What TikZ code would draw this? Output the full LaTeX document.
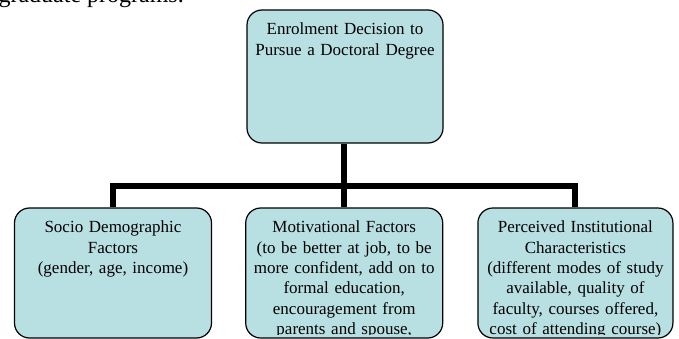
\documentclass[tikz,border=0pt]{standalone}
\usepackage{fontspec}
\setmainfont{Liberation Serif}
\usetikzlibrary{positioning}
\definecolor{paleblue}{RGB}{184,223,226}
\tikzstyle{box} = [rectangle, rounded corners=15pt, minimum width=197pt, minimum height=130pt, draw=black, line width=1.2pt, fill=paleblue, inner sep=0pt]
\tikzstyle{txt} = [text width=192pt, align=center, inner sep=0pt, anchor=north, font=\fontsize{17}{20.3}\selectfont]
\tikzstyle{line} = [line width=6pt]

\begin{document}
\begin{tikzpicture}[x=1pt, y=1pt]
    \clip (0,0) rectangle (679,-339);

        % Text above the chart
        \node (body) [anchor=base east, inner sep=0pt, font=\fontsize{24}{28}\selectfont] at (184,-2.5) {graduate programs.};

        % Nodes
        \node (decision) [box, minimum width=196pt, minimum height=133pt] at (345,-76.5) {};
        \node (socio) [box] at (113,-273) {};
        \node (motivation) [box, right=33pt of socio] {};
        \node (institution) [box, minimum width=195pt, right=34pt of motivation] {};

        % Lines
        \coordinate (bar) at (motivation.north |- 0,-186);
        \draw [line] (decision.south -| motivation.north) -- (motivation.north);
        \draw [line] (socio.north) |- (bar) -| (institution.north);

        % Labels (cut off at the bottom of the boxes)
        \begin{scope}
        \clip (0,0) rectangle (679,-334.5);
        \node (decisionText) [txt, below=13.5pt of decision.north] {Enrolment Decision to\\Pursue a Doctoral Degree};
        \node (socioText) [txt, below=13.5pt of socio.north] {Socio Demographic\\Factors\\(gender, age, income)};
        \node (motivationText) [txt, below=13.5pt of motivation.north] {Motivational Factors\\(to be better at job, to be\\more confident, add on to\\formal education,\\encouragement from\\parents and spouse,};
        \node (institutionText) [txt, below=13.5pt of institution.north] {Perceived Institutional\\Characteristics\\(different modes of study\\available, quality of\\faculty, courses offered,\\cost of attending course)};
        \end{scope}

        \end{tikzpicture}
\end{document}
